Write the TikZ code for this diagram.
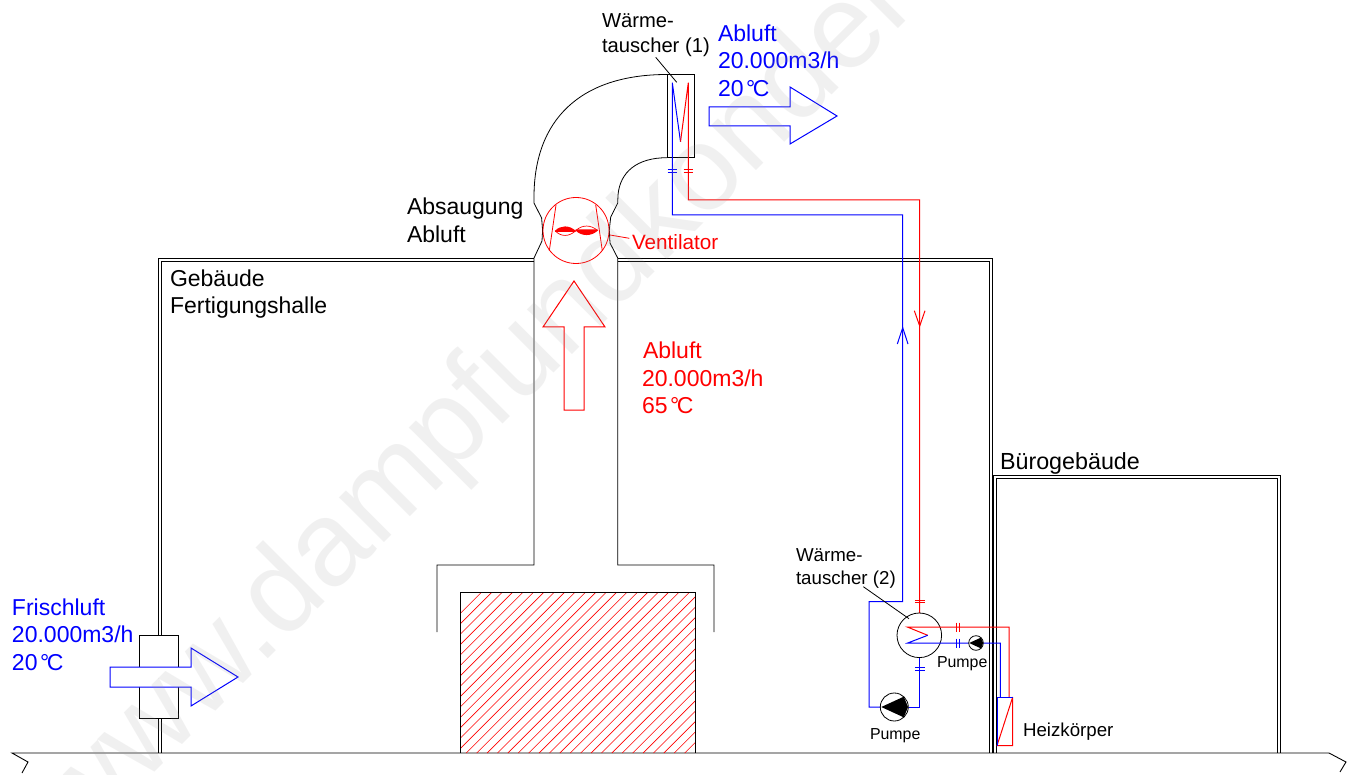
\documentclass[tikz,border=0pt]{standalone}
\usepackage{fontspec}
\setmainfont{Liberation Sans}
\definecolor{cblue}{RGB}{0,0,255}
\definecolor{cred}{RGB}{255,0,0}
\tikzset{
  wall/.style={black,line width=.8pt},
  thinb/.style={black,line width=.8pt},
  bpipe/.style={cblue,line width=1pt},
  rpipe/.style={cred,line width=1pt},
  lbl/.style={anchor=base west,inner sep=0pt,outer sep=0pt},
  big/.style={lbl,font=\fontsize{23}{26}\selectfont},
  mid/.style={lbl,font=\fontsize{20.2}{24}\selectfont},
  smalltxt/.style={lbl,font=\fontsize{15.9}{18}\selectfont},
}
\newcommand{\fvert}[3]{% flange on a vertical pipe
  \draw[#3,line width=.8pt] (#1-4.8,#2-1.3) -- (#1+4.8,#2-1.3) (#1-4.8,#2+1.3) -- (#1+4.8,#2+1.3);}
\newcommand{\fhorz}[3]{% flange on a horizontal pipe
  \draw[#3,line width=.8pt] (#1-1.3,#2-4.5) -- (#1-1.3,#2+4.5) (#1+1.3,#2-4.5) -- (#1+1.3,#2+4.5);}
\newcommand{\pumpsym}[3]{%
  \draw[thinb,fill=white] (#1,#2) circle (#3);
  \fill[black] (#1-.93*#3,#2) -- (#1+.68*#3,#2-.74*#3) -- (#1+.98*#3,#2) -- (#1+.68*#3,#2+.74*#3) -- cycle;}
\begin{document}
\begin{tikzpicture}[x=1pt,y=-1pt]
\useasboundingbox (0,0) rectangle (1354,775);
\fill[white] (0,0) rectangle (1354,775);

% ground
\draw[wall,line width=.9pt] (22,773) -- (28,762) -- (12,753) -- (1329,753) -- (1346,762) -- (1340,772);

% factory walls
\draw[wall] (158.3,753) -- (158.3,258.3) -- (534,258.3);
\draw[wall] (161.7,753) -- (161.7,261) -- (534,261);
\draw[wall] (617.7,258.3) -- (992.7,258.3) -- (992.7,753);
\draw[wall] (617.7,261) -- (989.5,261) -- (989.5,753);
\draw[black,line width=1.2pt] (158.3,567) -- (158.3,571) (161.7,567) -- (161.7,571);
% office walls
\draw[wall] (993.3,753) -- (993.3,475.7) -- (1280.3,475.7) -- (1280.3,753);
\draw[wall] (996,753) -- (996,478.3) -- (1277.7,478.3) -- (1277.7,753);

% hood and duct
\draw[thinb] (437,632) -- (437,565) -- (534,565) -- (534,258) -- (542,241) -- (542.6,230) -- (541.6,218) -- (534,203) -- (534,197) .. controls (534,120) and (580,74.5) .. (667,74.5);
\draw[thinb] (714,632) -- (714,565) -- (617.7,565) -- (617.7,258) -- (610,243) -- (609.3,230) -- (610.7,217) -- (617.7,203) -- (618,195) .. controls (620,172) and (637,157.7) .. (667,157.7);

% heated block
\begin{scope}
\clip (460,592) rectangle (695,753);
\foreach \i in {0,...,58}{
  \draw[cred,line width=.6pt] (320.7+10.4*\i,753) -- (481.7+10.4*\i,592);
}
\end{scope}
\draw[thinb] (460,753) -- (460,592) -- (695,592) -- (695,753);

% wall box and fresh air arrow
\draw[thinb,fill=white] (139,635) rectangle (178,718);
\draw[bpipe,fill=white] (110,667) -- (191,667) -- (191,648) -- (238,677) -- (191,706) -- (191,687) -- (110,687) -- cycle;

% exhaust arrow
\draw[bpipe] (709,107) -- (790,107) -- (790,87) -- (837,116) -- (790,144) -- (790,126) -- (709,126) -- cycle;
% rising exhaust arrow
\draw[rpipe] (564,410) -- (564,327) -- (543,327) -- (574,281) -- (605,327) -- (584,327) -- (584,410) -- cycle;

% heat exchanger 1
\draw[thinb] (667,74.5) rectangle (694,157.7);
\draw[thinb] (655.7,57.3) -- (676.7,82.3);
\draw[bpipe] (680.5,141.7) -- (672.3,82.7) -- (672.3,215) -- (902.7,215) -- (902.7,601.7) -- (869,601.7) -- (869,707) -- (880.3,707);
\draw[rpipe] (680.5,141.7) -- (688.3,82.7) -- (688.3,200) -- (919.7,200) -- (919.7,613);
\fvert{672.5}{170.8}{cblue}
\fvert{688.3}{170.8}{cred}
\draw[rpipe] (914.3,310.7) -- (919.7,326) -- (925,310.7);
\draw[bpipe] (897.3,344) -- (902.7,327.7) -- (908,344);

% fan
\draw[cred,line width=.8pt] (576,230.5) circle (33);
\draw[cred,line width=.8pt] (556,205) -- (549.3,250.7);
\draw[cred,line width=.8pt] (595.7,205) -- (602.3,250.7);
\fill[cred] (555,230.7) .. controls (561,225) and (569,225) .. (575.7,230.7) -- (575.7,232) -- (555,232) -- cycle;
\draw[cred,line width=.7pt] (555,230.7) .. controls (561,237) and (569,237) .. (575.7,230.7);
\fill[cred] (575.7,230.7) .. controls (582,236.5) and (591,236.5) .. (597.7,230.7) -- (597.7,229.5) -- (575.7,229.5) -- cycle;
\draw[cred,line width=.7pt] (575.7,230.7) .. controls (582,224.5) and (591,224.5) .. (597.7,230.7);
\draw[cred,line width=.8pt] (610,235) -- (629.3,238.3);

% heat exchanger 2 and its circuits
\draw[thinb] (919.3,635.3) circle (22.3);
\draw[thinb] (863.3,586.7) -- (909,618.7);
\fvert{919.7}{601.5}{cred}
\fvert{919.7}{668.7}{cblue}
\draw[bpipe] (908.3,707) -- (919.7,707) -- (919.7,657.6);
\draw[rpipe] (927.7,635.3) -- (907.3,627) -- (1009,627) -- (1009,697);
\draw[bpipe] (927.7,635.3) -- (907.7,643) -- (1000.3,643) -- (1000.3,697);
\fhorz{958}{627}{cred}
\fhorz{958}{643}{cblue}
\pumpsym{894.3}{707}{14}
\pumpsym{976}{643}{7.3}

% radiator
\draw[cred,line width=1pt] (1012.7,697) -- (1012.7,745.7) -- (997,745.7) -- (1012.7,697);
\draw[bpipe] (997,745.7) -- (997,697) -- (1012.7,697);

% labels
\node[mid] (wt1a) at (602,27.3) {Wärme-};
\node[mid] (wt1b) at (602,52.7) {tauscher (1)};
\node[big,text=cblue] (ab1) at (718,41.7) {Abluft};
\node[big,text=cblue] (ab2) at (718,69) {20.000m3/h};
\node[big,text=cblue] (ab3) at (718,97) {20\kern2.5pt°\kern-2.5ptC};
\node[big] (abs1) at (407,215) {Absaugung};
\node[big] (abs2) at (407,242.6) {Abluft};
\node[lbl,font=\fontsize{20.7}{24}\selectfont,text=cred] (vent) at (632,250) {Ventilator};
\node[big] (geb1) at (170,287) {Gebäude};
\node[big] (geb2) at (170,313.4) {Fertigungshalle};
\node[big,text=cred] (ar1) at (643,358.4) {Abluft};
\node[big,text=cred] (ar2) at (642,386) {20.000m3/h};
\node[big,text=cred] (ar3) at (642,413.4) {65\kern2.5pt°\kern-2.5ptC};
\node[lbl,font=\fontsize{23.3}{26}\selectfont] (buero) at (1000,469) {Bürogebäude};
\node[big,text=cblue] (fr1) at (12,615) {Frischluft};
\node[big,text=cblue] (fr2) at (12,642.7) {20.000m3/h};
\node[big,text=cblue] (fr3) at (12,670.7) {20\kern2.5pt°\kern-2.5ptC};
\node[lbl,font=\fontsize{18.7}{22}\selectfont] (wt2a) at (796,561) {Wärme-};
\node[lbl,font=\fontsize{18.7}{22}\selectfont] (wt2b) at (796,584) {tauscher (2)};
\node[smalltxt] (p1) at (937,667.7) {Pumpe};
\node[smalltxt] (p2) at (870,739.3) {Pumpe};
\node[lbl,font=\fontsize{18.7}{22}\selectfont] (hk) at (1023,736.7) {Heizkörper};

% watermark laid over the drawing
\begin{scope}
\clip (0,0) rectangle (1354,775);
\node[lbl,rotate=45,font=\fontsize{120}{130}\selectfont,text=black!40,text opacity=.14] (wm) at (81,846) {www.dampfundkondensat.de};
\end{scope}
\end{tikzpicture}
\end{document}
